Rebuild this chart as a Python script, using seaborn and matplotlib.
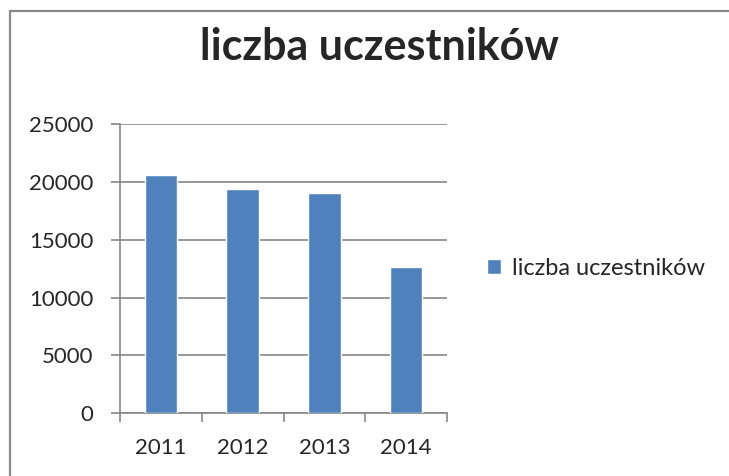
import numpy as np
import pandas as pd
import matplotlib
matplotlib.use("Agg")
import matplotlib.pyplot as plt
import seaborn as sns
from matplotlib.lines import Line2D

# --- DANE ---
years = ["2011", "2012", "2013", "2014"]
participants = [20600, 19400, 19050, 12630]
series_name = "liczba uczestników"

BAR_COLOR = "#4F81BD"
GRID_COLOR = "#868686"

sns.set_style("white")
plt.rcParams['font.family'] = ['Lato', 'DejaVu Sans']

df = pd.DataFrame({"rok": years, "liczba": participants})

fig = plt.figure(figsize=(7.29, 4.76), dpi=100)
ax = fig.add_axes([0.165, 0.132, 0.448, 0.607])

sns.barplot(data=df, x="rok", y="liczba", color=BAR_COLOR, width=0.4,
            saturation=1, label=series_name, ax=ax, zorder=3)

ax.set_ylim(0, 25000)
ax.set_yticks(np.arange(0, 25001, 5000))
ax.set_xlim(-0.5, len(years) - 0.5)
ax.yaxis.grid(True, color=GRID_COLOR, linewidth=1.2, zorder=0)
ax.set_axisbelow(True)
ax.set_xlabel("")
ax.set_ylabel("")

for side in ["top", "right"]:
    ax.spines[side].set_visible(False)
for side in ["left", "bottom"]:
    ax.spines[side].set_color(GRID_COLOR)
    ax.spines[side].set_linewidth(1.2)

# ticki: na osi Y na zewnatrz, na osi X na granicach kategorii
ax.tick_params(axis="y", direction="out", length=6.5, width=1.2, color=GRID_COLOR,
               labelsize=16, pad=13, left=True)
ax.set_xticks(np.arange(-0.5, len(years)), minor=True)
ax.tick_params(axis="x", which="minor", direction="out", length=6.5, width=1.2,
               color=GRID_COLOR, bottom=True)
ax.tick_params(axis="x", which="major", length=0, labelsize=16, pad=18)

fig.text(0.521, 1 - 60 / 476, series_name, fontsize=31, fontweight="bold",
         ha="center", va="baseline")

ax.legend(loc="center left", bbox_to_anchor=(1.057, 0.5), frameon=False,
          fontsize=17, handlelength=0.6, handleheight=0.6, handletextpad=0.45)

# ramka wykresu (lewa i gorna krawedz)
W, H = 729, 476
fig.lines.append(Line2D([9.5 / W, 9.5 / W], [-0.01, 1 - 10 / H], transform=fig.transFigure,
                        color="#8a8a8a", linewidth=1.6, solid_capstyle="butt"))
fig.lines.append(Line2D([9 / W, 1.01], [1 - 10.5 / H, 1 - 10.5 / H], transform=fig.transFigure,
                        color="#8a8a8a", linewidth=1.6, solid_capstyle="butt"))

fig.savefig("out.png", dpi=100, facecolor="white")
